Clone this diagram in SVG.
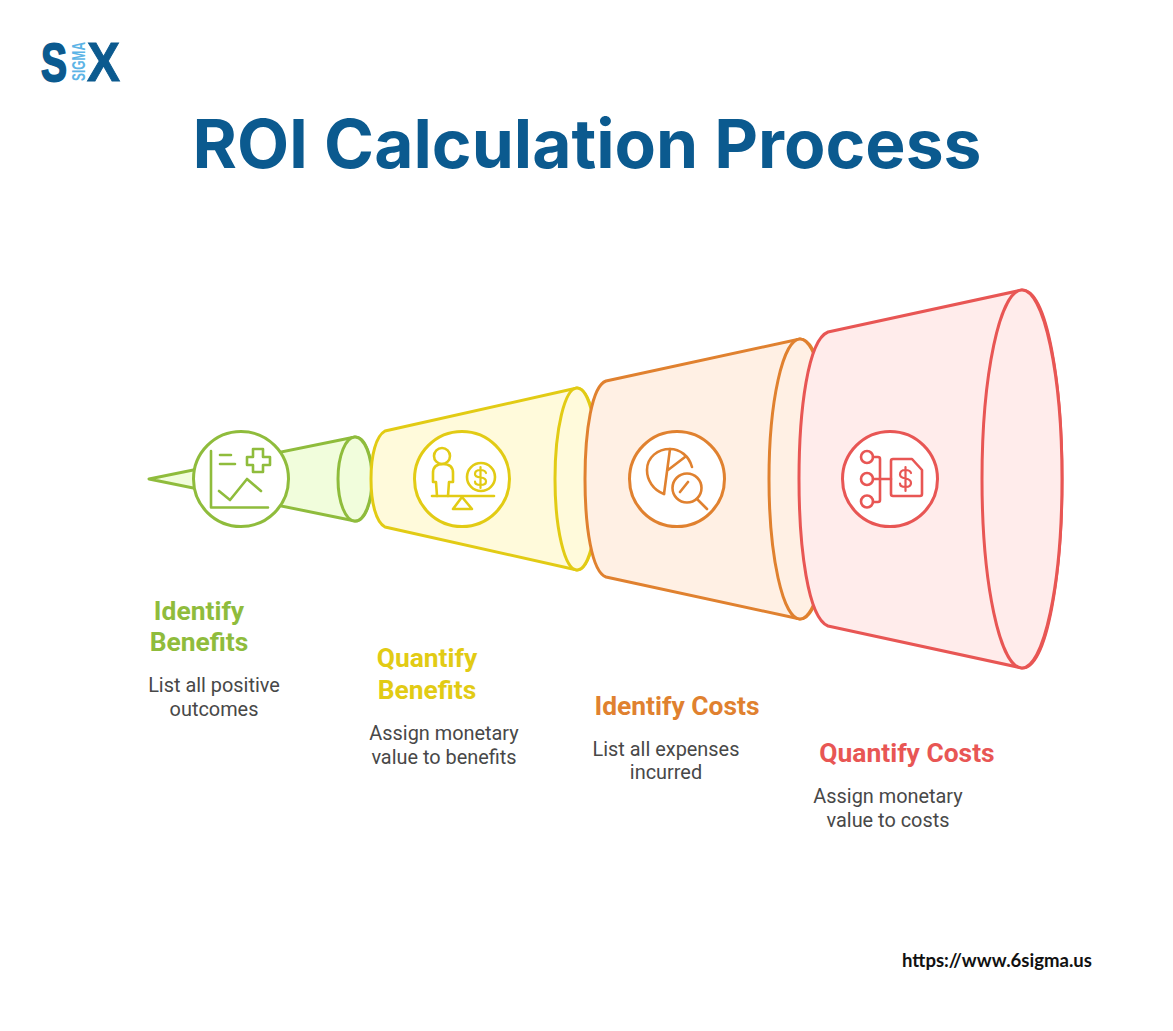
<svg xmlns="http://www.w3.org/2000/svg" width="1173" height="1031" viewBox="0 0 1173 1031">
<style>
text{font-family:Roboto,"Liberation Sans",sans-serif}
.t{font-weight:700;font-size:26.400px;text-anchor:middle}
.d{font-size:19.900px;fill:#484848;text-anchor:middle}
.s{stroke-width:3;stroke-linejoin:round;stroke-linecap:round}
.i{fill:none;stroke-width:2.600;stroke-linejoin:round;stroke-linecap:round}
.m{stroke-width:2.200}
.c{fill:#fff;stroke-width:3}
.g{stroke:#8fbc3c}.y{stroke:#e2cb14}.o{stroke:#e0812f}.r{stroke:#e85654}
.lg{font-family:"Liberation Sans",sans-serif;font-weight:700}
</style>
<rect width="1173" height="1031" fill="#fff"/>
<g id="logo">
<text class="lg" x="41" y="81" font-size="54" fill="#0b5a8f" stroke="#0b5a8f" stroke-width="2" textLength="26" lengthAdjust="spacingAndGlyphs">S</text>
<text class="lg" transform="translate(84.500,81) rotate(-90)" font-size="19" fill="#5cb4e6" textLength="39" lengthAdjust="spacingAndGlyphs">SIGMA</text>
<text class="lg" x="87" y="81" font-size="55" fill="#0b5a8f" stroke="#0b5a8f" stroke-width="1" textLength="33" lengthAdjust="spacingAndGlyphs">X</text>
</g>
<text id="title" x="587" y="168" font-size="67.700" font-weight="700" fill="#0b5a8f" text-anchor="middle" style="font-family:Inter,Roboto,sans-serif">ROI Calculation Process</text>
<g id="connectors"></g>
<g id="node-identify-benefits">
<path class="s g" fill="#f1fddc" d="M355 437L149 479L355 521C366 521 372 500 372 479C372 458 366 437 355 437Z"/>
<ellipse class="s g" fill="#f1fddc" cx="355" cy="479" rx="17" ry="42"/>
<circle class="c g" cx="241" cy="479" r="47.500"/>
<g class="i g">
<path d="M211 451V507.500H268"/>
<path d="M220 455H231M220 464H235"/>
<path d="M253 449H263V457H270V465H263V472H253V465H247V457H253Z"/>
<path d="M219 491L230 500L247 479L261 491"/>
</g>
</g>
<g id="node-quantify-benefits">
<path class="s y" fill="#fffadb" d="M577 388L385 431C376 436 371 455 371 479C371 503 376 522 385 527L577 570C590 570 599 530 599 479C599 428 590 388 577 388Z"/>
<ellipse class="s y" fill="#fffadb" cx="577" cy="479" rx="22" ry="91"/>
<circle class="c y" cx="462" cy="479" r="47.500"/>
<g class="i y">
<circle cx="442" cy="456" r="8"/>
<path d="M437 496L436 482H433V473Q433 464 443 464Q453 464 453 473V482H449L448 496"/>
<circle cx="481" cy="477" r="14"/>
<path class="m" d="M486 473Q485 470 480.500 470Q475 470 475 474Q475 477 480.500 477.500Q486 478 486 481.500Q486 485 480.500 485Q475 485 475 481.500M480.500 467V488"/>
<path d="M432 496H494"/>
<path d="M462 497L453 509H472Z"/>
</g>
</g>
<g id="node-identify-costs">
<path class="s o" fill="#fff0e4" d="M800 339L606 381C592 386 585 430 585 479C585 528 592 572 606 577L800 619C820 619 831 550 831 479C831 408 820 339 800 339Z"/>
<ellipse class="s o" fill="#fff0e4" cx="800" cy="479" rx="31" ry="140"/>
<circle class="c o" cx="677" cy="479" r="47.500"/>
<g class="i o">
<path d="M664 494C653 490 647 480 647 470C647 457 658 449 670 449C680 449 689 456 692 467"/>
<path d="M670 449L664 494M668 470L685 457"/>
<circle cx="687" cy="488" r="14.500"/>
<path d="M680 492L688 482M697 499L707 509"/>
</g>
</g>
<g id="node-quantify-costs">
<path class="s r" fill="#ffeceb" d="M1022 290L828 332C808 340 799 410 799 479C799 548 808 618 828 626L1022 668C1048 668 1062 570 1062 479C1062 388 1048 290 1022 290Z"/>
<ellipse class="s r" fill="#ffeceb" cx="1022" cy="479" rx="40" ry="189"/>
<circle class="c r" cx="890" cy="479" r="47.500"/>
<g class="i r">
<circle cx="867" cy="457" r="6"/><circle cx="867" cy="479" r="6"/><circle cx="867" cy="501.500" r="6"/>
<path d="M873 457H878Q880 457 880 459V500Q880 502 878 502H873M873 479H891"/>
<path d="M891 461Q891 459 893 459H912L922 470V494Q922 496 920 496H893Q891 496 891 494Z"/>
<path class="m" d="M911 473Q910 470 905.500 470Q900 470 900 474.500Q900 477.500 905.500 478.500Q911 479.500 911 483Q911 487 905.500 487Q900 487 900 483.500M905.500 467V491"/>
</g>
</g>
<g id="label-identify-benefits"><text class="t" x="199" y="620" fill="#8fbc3c">Identify</text><text class="t" x="199" y="651" fill="#8fbc3c">Benefits</text><text class="d" x="214" y="692">List all positive</text><text class="d" x="214" y="716">outcomes</text></g>
<g id="label-quantify-benefits"><text class="t" x="427" y="667" fill="#e2cb14">Quantify</text><text class="t" x="427" y="699" fill="#e2cb14">Benefits</text><text class="d" x="444" y="740">Assign monetary</text><text class="d" x="444" y="764">value to benefits</text></g>
<g id="label-identify-costs"><text class="t" x="677" y="715" fill="#e0812f">Identify Costs</text><text class="d" x="666" y="756">List all expenses</text><text class="d" x="666" y="779">incurred</text></g>
<g id="label-quantify-costs"><text class="t" x="907" y="762" fill="#e85654">Quantify Costs</text><text class="d" x="888" y="803">Assign monetary</text><text class="d" x="888" y="827">value to costs</text></g>
<text id="url" x="902" y="967" font-size="18" font-weight="700" fill="#111" style="font-family:Lato,Roboto,sans-serif" textLength="190" lengthAdjust="spacingAndGlyphs">https://www.6sigma.us</text>
</svg>
